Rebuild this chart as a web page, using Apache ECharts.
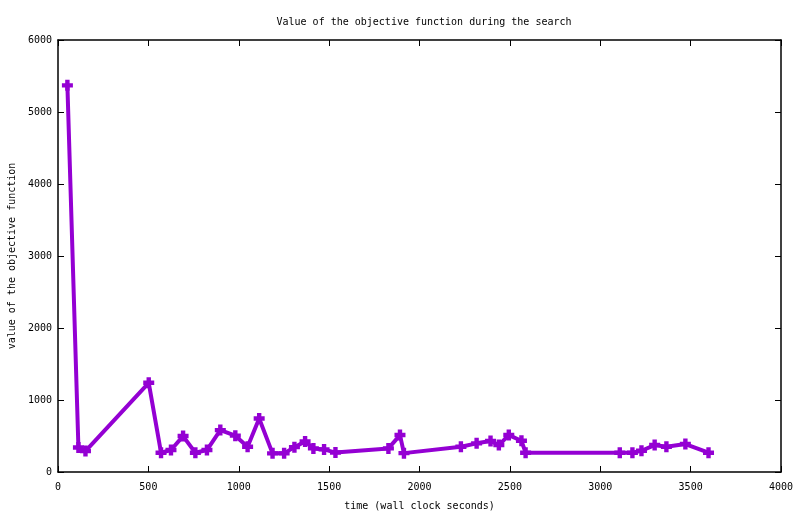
<!DOCTYPE html>
<html>
<head>
<meta charset="utf-8">
<script src="https://cdn.jsdelivr.net/npm/echarts@6/dist/echarts.min.js"></script>
<style>
  html, body { margin: 0; padding: 0; background: #fff; }
  #chart { width: 800px; height: 514px; }
</style>
</head>
<body>
<div id="chart"></div>
<script>
// wall clock seconds
const times = [52, 113, 152, 502, 570, 625, 692, 760, 824, 898, 981, 1049, 1113,
  1187, 1251, 1308, 1367, 1413, 1472, 1535, 1828, 1892, 1914, 2229, 2316, 2393,
  2439, 2494, 2564, 2587, 3108, 3178, 3228, 3301, 3366, 3471, 3599]
// objective function values
const values = [5370, 340, 290, 1239, 268, 305, 499, 268, 305, 582, 505, 351, 744,
  259, 259, 345, 425, 328, 314, 270, 328, 513, 262, 351, 398, 430,
  374, 513, 434, 268, 268, 268, 295, 374, 351, 388, 268]

const font = 'DejaVu Sans Mono'
const purple = '#9400d3'
const plus = 'path://M3,0h4v10h-4zM0,3h10v4h-10z'

const tickStyle = { show: true, inside: true, length: 6, lineStyle: { color: '#000', width: 1 } }
const lineStyle = { color: '#000', width: 1.5 }
const plain = v => String(v)

const chart = echarts.init(document.getElementById('chart'), null, { renderer: 'canvas' })
chart.setOption({
  animation: false,
  backgroundColor: '#fff',
  title: {
    text: 'Value of the objective function during the search',
    left: 419,
    top: 12,
    textAlign: 'center',
    textStyle: { fontFamily: font, fontSize: 10, fontWeight: 'normal', color: '#000' }
  },
  grid: { left: 58, right: 19, top: 40, bottom: 42, containLabel: false, outerBoundsMode: 'none' },
  xAxis: [{
    type: 'value',
    min: 0, max: 4000, interval: 500,
    name: 'time (wall clock seconds)',
    nameLocation: 'middle',
    nameGap: 29,
    nameTextStyle: { fontFamily: font, fontSize: 10, color: '#000' },
    axisLine: { show: true, onZero: false, lineStyle },
    axisTick: tickStyle,
    axisLabel: { fontFamily: font, fontSize: 10, color: '#000', margin: 10, formatter: plain },
    splitLine: { show: false }
  }, {
    type: 'value', position: 'top',
    min: 0, max: 4000, interval: 500,
    axisLine: { show: true, onZero: false, lineStyle },
    axisTick: tickStyle,
    axisLabel: { show: false },
    splitLine: { show: false }
  }],
  yAxis: [{
    type: 'value',
    min: 0, max: 6000, interval: 1000,
    name: 'value of the objective function',
    nameLocation: 'middle',
    nameGap: 41,
    nameTextStyle: { fontFamily: font, fontSize: 10, color: '#000' },
    axisLine: { show: true, onZero: false, lineStyle },
    axisTick: tickStyle,
    axisLabel: { fontFamily: font, fontSize: 10, color: '#000', margin: 6, formatter: plain },
    splitLine: { show: false }
  }, {
    type: 'value', position: 'right',
    min: 0, max: 6000, interval: 1000,
    axisLine: { show: true, onZero: false, lineStyle },
    axisTick: tickStyle,
    axisLabel: { show: false },
    splitLine: { show: false }
  }],
  series: [{
    type: 'line',
    data: times.map((t, i) => [t, values[i]]),
    symbol: plus,
    symbolSize: 11,
    showAllSymbol: true,
    lineStyle: { color: purple, width: 4 },
    itemStyle: { color: purple, borderWidth: 0 }
  }]
})
</script>
</body>
</html>
